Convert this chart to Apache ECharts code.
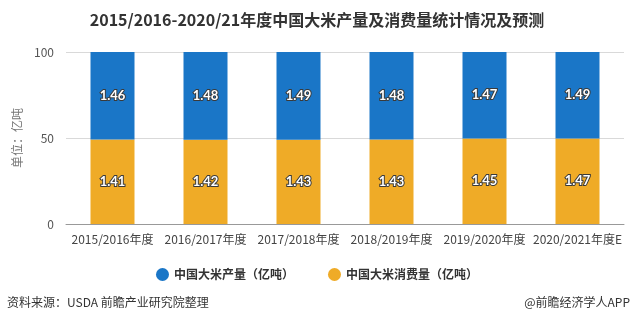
<!DOCTYPE html>
<html>
<head>
<meta charset="utf-8">
<script src="https://cdn.jsdelivr.net/npm/echarts@6/dist/echarts.min.js"></script>
<style>
  html, body { margin: 0; padding: 0; background: #fff; }
  #chart { width: 634px; height: 325px; }
</style>
</head>
<body>
<div id="chart"></div>
<script>
// Marketing years
const years = ['2015/2016年度', '2016/2017年度', '2017/2018年度', '2018/2019年度', '2019/2020年度', '2020/2021年度E'];
// China rice output and consumption, 100 million tonnes
const production = [1.46, 1.48, 1.49, 1.48, 1.47, 1.49];
const consumption = [1.41, 1.42, 1.43, 1.43, 1.45, 1.47];
const yTicks = [0, 50, 100];

// Each column is split by share of the combined total (percent stack)
const share = (a, b) => a.map((v, i) => v / (v + b[i]) * 100);
const prodShare = share(production, consumption);
const consShare = share(consumption, production);

const labelStyle = (raw) => ({
  show: true,
  position: 'inside',
  color: '#fff',
  fontWeight: 'bold',
  fontSize: 13,
  fontFamily: 'Lato, "Noto Sans", sans-serif',
  textBorderColor: '#3a3a3a',
  textBorderWidth: 2,
  formatter: (p) => raw[p.dataIndex].toFixed(2)
});

const chart = echarts.init(document.getElementById('chart'));
chart.setOption({
  backgroundColor: '#fff',
  animation: false,
  textStyle: { fontFamily: '"Noto Sans CJK SC", sans-serif' },
  title: {
    text: '2015/2016-2020/21年度中国大米产量及消费量统计情况及预测',
    left: 'center',
    top: 7,
    textStyle: { fontSize: 16, fontWeight: 'bold', color: '#333', fontFamily: '"Noto Sans CJK SC", sans-serif' }
  },
  legend: {
    data: ['中国大米产量（亿吨）', '中国大米消费量（亿吨）'],
    left: 'center',
    top: 263,
    icon: 'circle',
    itemWidth: 13,
    itemHeight: 13,
    itemGap: 34,
    textStyle: { fontSize: 12, color: '#333', fontWeight: 'bold' }
  },
  grid: { left: 66, right: 10, top: 52, bottom: 101 },
  xAxis: {
    type: 'category',
    data: years,
    axisLine: { lineStyle: { color: '#999' } },
    axisTick: { alignWithLabel: true, length: 5, lineStyle: { color: '#999' } },
    axisLabel: { color: '#444', fontSize: 12, margin: 9, interval: 0 }
  },
  yAxis: {
    type: 'value',
    min: 0,
    max: 100,
    interval: 50,
    name: '单位：亿吨',
    nameLocation: 'middle',
    nameGap: 36,
    nameRotate: 90,
    nameTextStyle: { color: '#777', fontSize: 12 },
    axisLine: { show: false },
    axisTick: { show: false },
    axisLabel: {
      color: '#555',
      fontSize: 12,
      margin: 12,
      formatter: (v) => (yTicks.includes(v) ? String(v) : '')
    },
    splitLine: { lineStyle: { color: '#d9d9d9' } }
  },
  series: [
    {
      name: '中国大米消费量（亿吨）',
      type: 'bar',
      stack: 'total',
      barWidth: 44,
      itemStyle: { color: '#efab27' },
      label: labelStyle(consumption),
      data: consShare
    },
    {
      name: '中国大米产量（亿吨）',
      type: 'bar',
      stack: 'total',
      barWidth: 44,
      itemStyle: { color: '#1a76c7' },
      label: labelStyle(production),
      data: prodShare
    }
  ],
  graphic: [
    {
      type: 'text',
      left: 7,
      top: 296,
      style: { text: '资料来源：USDA 前瞻产业研究院整理', fill: '#333', fontSize: 12, fontFamily: '"Noto Sans CJK SC", sans-serif' }
    },
    {
      type: 'text',
      right: 4,
      top: 296,
      style: { text: '@前瞻经济学人APP', fill: '#333', fontSize: 12, fontFamily: '"Noto Sans CJK SC", sans-serif' }
    }
  ]
});
</script>
</body>
</html>
